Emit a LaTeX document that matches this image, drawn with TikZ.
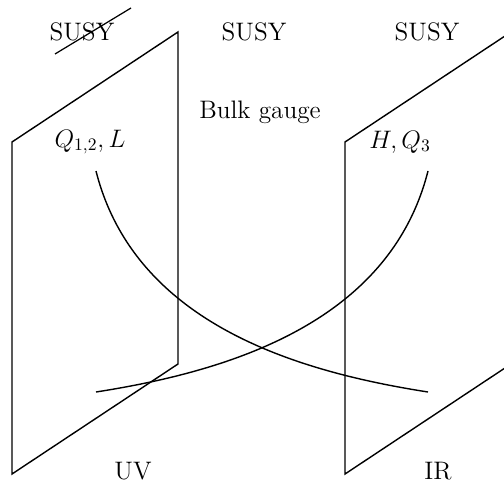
\documentclass[tikz,border=0pt]{standalone}
\usepackage{amsmath,amssymb}
\usepackage{tikz}

\begin{document}
\begin{tikzpicture}[x=0.02cm,y=-0.02cm,line width=0.8pt,every node/.style={font=\Large}]
  \useasboundingbox (0,0) rectangle (504,483);
  \clip (0,0) rectangle (504,483);

  % branes
  \draw (12,142) -- (178,32) -- (178,364) -- (12,474) -- cycle;
  \draw (345,142) -- (511,32) -- (511,364) -- (345,474) -- cycle;

  % labels
  \node (susyUV) at (82,32) {SUSY};
  \node (susyBulk) at (254,32) {SUSY};
  \node (susyIR) at (427,32) {SUSY};
  \draw[line width=0.7pt] (55,54) -- (131,8);
  \node (bulk) at (260,112) {Bulk gauge};
  \node (fieldsUV) at (90,142) {$Q_{1,2},L$};
  \node (fieldsIR) at (400,142) {$H,Q_3$};
  \node (uv) at (133,471) {UV};
  \node (ir) at (438,471) {IR};

  % profiles
  \draw (96,171) .. controls (135,325) and (300,372) .. (428,392);
  \draw (428,171) .. controls (389,325) and (224,372) .. (96,392);
\end{tikzpicture}
\end{document}
